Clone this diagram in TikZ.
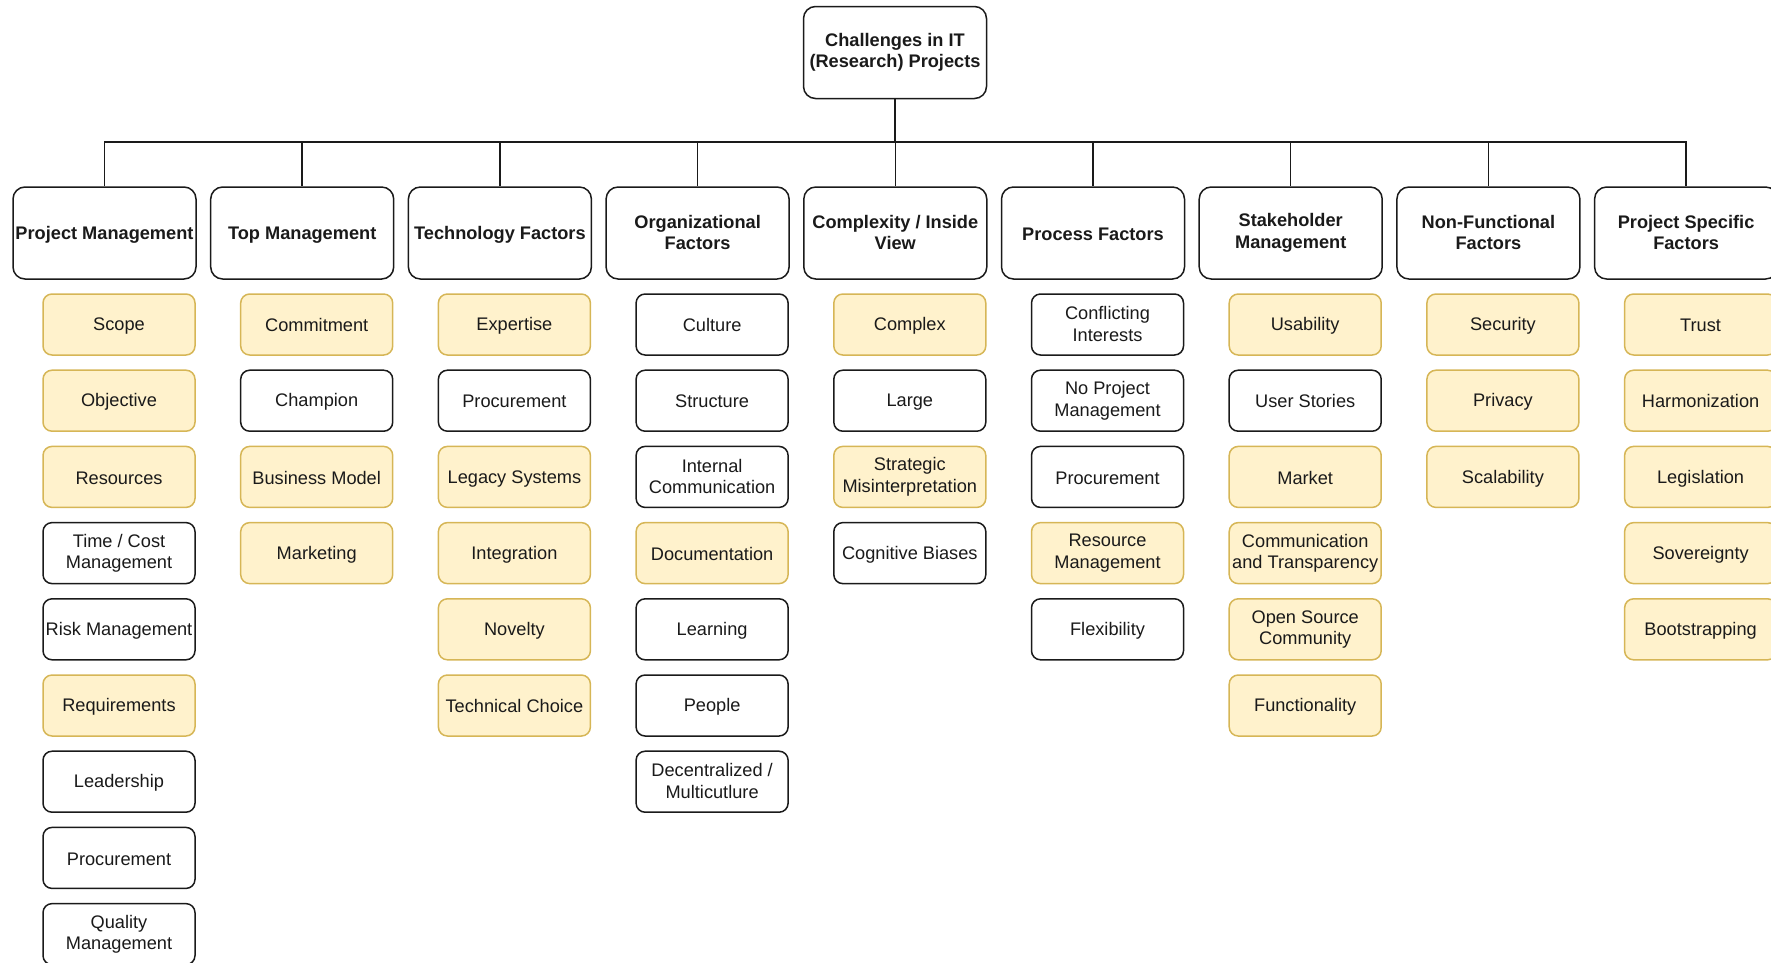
\documentclass[tikz,border=0pt]{standalone}
\usepackage{fontspec}
\setmainfont{Liberation Sans}
\definecolor{yfill}{HTML}{FFF2CC}
\definecolor{yline}{HTML}{D6B656}
\definecolor{ink}{HTML}{1A1A1A}
% strut that keeps the text optically centred in its box
\newcommand\vstrut{\rule[-1.5pt]{0pt}{17.5pt}}
\tikzset{
  basebox/.style={rectangle, align=center, inner sep=0pt, line width=1.5pt,
    text=ink, font=\fontsize{18.2}{21.5}\selectfont,
    execute at begin node={\vstrut}, execute at end node={\vstrut}},
  headbox/.style={basebox, draw=ink, fill=white, rounded corners=12pt,
    minimum width=183pt, minimum height=92pt,
    font=\bfseries\fontsize{18.2}{21.5}\selectfont},
  kidbox/.style={basebox, rounded corners=9pt, minimum width=152pt, minimum height=61pt},
  yel/.style={kidbox, draw=yline, fill=yfill},
  wht/.style={kidbox, draw=ink, fill=white},
  link/.style={draw=ink, line width=1.5pt},
}
% category heads sit in columns 0..8, their items below them
\newcommand\cathead[2]{\node[headbox] (c#1) at ({104.5+197.7*#1},233) {#2};}
\newcommand\kid[4]{\node[#3] (k#1-#2) at ({119+197.7*#1},{324.5+76.2*#2}) {#4};}
\begin{document}
\begin{tikzpicture}[x=1pt,y=-1pt]
\useasboundingbox (0,0) rectangle (1771,962);
\clip (0,0) rectangle (1771,962);

\node[headbox] (top) at (895,52.5) {Challenges in IT\\(Research) Projects};
\coordinate (bar) at (895,142);

\cathead{0}{Project Management}
\cathead{1}{Top Management}
\cathead{2}{Technology Factors}
\cathead{3}{Organizational\\Factors}
\cathead{4}{Complexity / Inside\\View}
\cathead{5}{Process Factors}
\cathead{6}{Stakeholder\\Management}
\cathead{7}{Non-Functional\\Factors}
\cathead{8}{Project Specific\\Factors}

\foreach \i in {0,...,8}
  \draw[link] (top.south) -- (top.south |- bar) -| (c\i.north);

% Project Management
\kid{0}{0}{yel}{Scope}
\kid{0}{1}{yel}{Objective}
\kid{0}{2}{yel}{Resources}
\kid{0}{3}{wht}{Time / Cost\\Management}
\kid{0}{4}{wht}{Risk Management}
\kid{0}{5}{yel}{Requirements}
\kid{0}{6}{wht}{Leadership}
\kid{0}{7}{wht}{Procurement}
\kid{0}{8}{wht}{Quality\\Management}
% Top Management
\kid{1}{0}{yel}{Commitment}
\kid{1}{1}{wht}{Champion}
\kid{1}{2}{yel}{Business Model}
\kid{1}{3}{yel}{Marketing}
% Technology Factors
\kid{2}{0}{yel}{Expertise}
\kid{2}{1}{wht}{Procurement}
\kid{2}{2}{yel}{Legacy Systems}
\kid{2}{3}{yel}{Integration}
\kid{2}{4}{yel}{Novelty}
\kid{2}{5}{yel}{Technical Choice}
% Organizational Factors
\kid{3}{0}{wht}{Culture}
\kid{3}{1}{wht}{Structure}
\kid{3}{2}{wht}{Internal\\Communication}
\kid{3}{3}{yel}{Documentation}
\kid{3}{4}{wht}{Learning}
\kid{3}{5}{wht}{People}
\kid{3}{6}{wht}{Decentralized /\\Multicutlure}
% Complexity / Inside View
\kid{4}{0}{yel}{Complex}
\kid{4}{1}{wht}{Large}
\kid{4}{2}{yel}{Strategic\\Misinterpretation}
\kid{4}{3}{wht}{Cognitive Biases}
% Process Factors
\kid{5}{0}{wht}{Conflicting\\Interests}
\kid{5}{1}{wht}{No Project\\Management}
\kid{5}{2}{wht}{Procurement}
\kid{5}{3}{yel}{Resource\\Management}
\kid{5}{4}{wht}{Flexibility}
% Stakeholder Management
\kid{6}{0}{yel}{Usability}
\kid{6}{1}{wht}{User Stories}
\kid{6}{2}{yel}{Market}
\kid{6}{3}{yel}{Communication\\and Transparency}
\kid{6}{4}{yel}{Open Source\\Community}
\kid{6}{5}{yel}{Functionality}
% Non-Functional Factors
\kid{7}{0}{yel}{Security}
\kid{7}{1}{yel}{Privacy}
\kid{7}{2}{yel}{Scalability}
% Project Specific Factors
\kid{8}{0}{yel}{Trust}
\kid{8}{1}{yel}{Harmonization}
\kid{8}{2}{yel}{Legislation}
\kid{8}{3}{yel}{Sovereignty}
\kid{8}{4}{yel}{Bootstrapping}
\end{tikzpicture}
\end{document}
